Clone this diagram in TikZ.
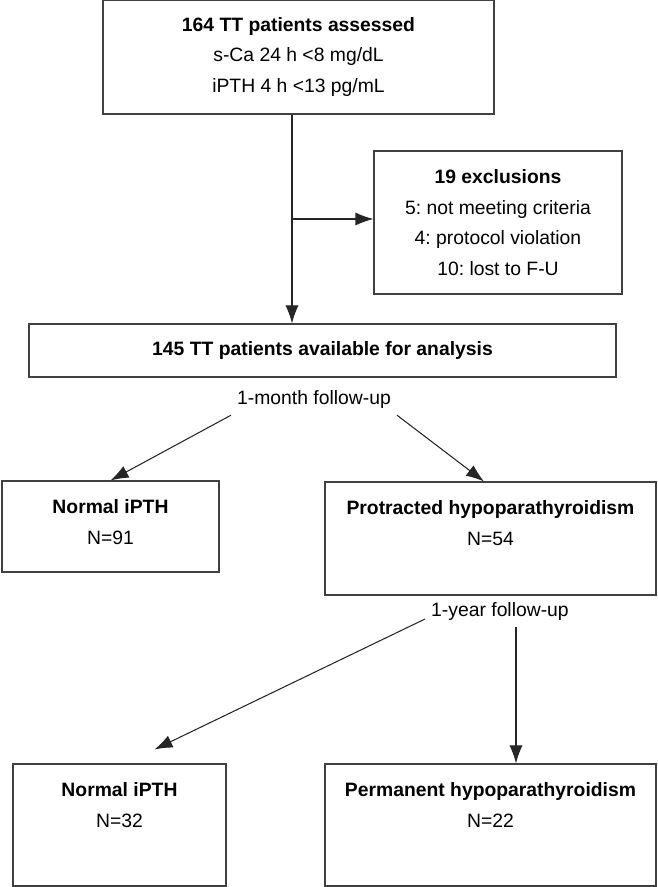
\documentclass[tikz,border=0pt]{standalone}
\usepackage{fontspec}
\setmainfont{Liberation Sans}
\frenchspacing
\usetikzlibrary{positioning,arrows.meta}
\begin{document}
\begin{tikzpicture}[>={Latex[length=3.6mm,width=2.6mm]},font=\fontsize{11}{17.4}\selectfont,
box/.style 2 args={draw=black!75,line width=0.6pt,align=center,minimum width=#1,minimum height=#2},
txt/.style={align=center,inner sep=0pt},
arr/.style={->,draw=black!85,line width=0.6pt}]
\useasboundingbox (0,0) rectangle (13.16,17.74);
\node[box={7.82cm}{2.28cm}] (assess) at (5.97,16.6) {\textbf{164 TT patients assessed}\\s-Ca 24 h <8 mg/dL\\iPTH 4 h <13 pg/mL};
\node[box={4.96cm}{2.86cm}] (excl) at (9.96,13.29) {\textbf{19 exclusions}\\5: not meeting criteria\\4: protocol violation\\10: lost to F-U};
\node[box={11.74cm}{1.06cm}] (avail) at (6.45,10.73) {\textbf{145 TT patients available for analysis}};
\node (fu1) at (6.28,9.74) {1-month follow-up};
\node[box={4.34cm}{1.82cm}] (norm1) at (2.21,7.21) {};
\node[txt,below=0.38cm of norm1.north] (norm1t) {\textbf{Normal iPTH}\\N=91};
\node[box={6.62cm}{2.26cm}] (prot) at (9.81,6.97) {};
\node[txt,below=0.38cm of prot.north] (prott) {\textbf{Protracted hypoparathyroidism}\\N=54};
\node (fu2) at (10,5.5) {1-year follow-up};
\node[box={4.26cm}{2.44cm}] (norm2) at (2.39,1.24) {};
\node[txt,below=0.38cm of norm2.north] (norm2t) {\textbf{Normal iPTH}\\N=32};
\node[box={6.62cm}{2.44cm}] (perm) at (9.81,1.24) {};
\node[txt,below=0.38cm of perm.north] (permt) {\textbf{Permanent hypoparathyroidism}\\N=22};
\coordinate (split) at (5.84,13.36);
\draw[arr] (assess.south -| split) -- (avail.north -| split);
\draw[arr] (split) -- (split -| excl.west);
\draw[arr] (fu1.south west) -- (norm1.north);
\draw[arr] (fu1.south east) -- ([xshift=-1.3mm]prot.north);
\draw[arr] ([yshift=-1.4mm]fu2.west) -- ([xshift=7mm,yshift=2.8mm]norm2.north);
\draw[arr] ([xshift=3.2mm]fu2.south) -- ([xshift=3.2mm]fu2.south |- perm.north);
\end{tikzpicture}
\end{document}
